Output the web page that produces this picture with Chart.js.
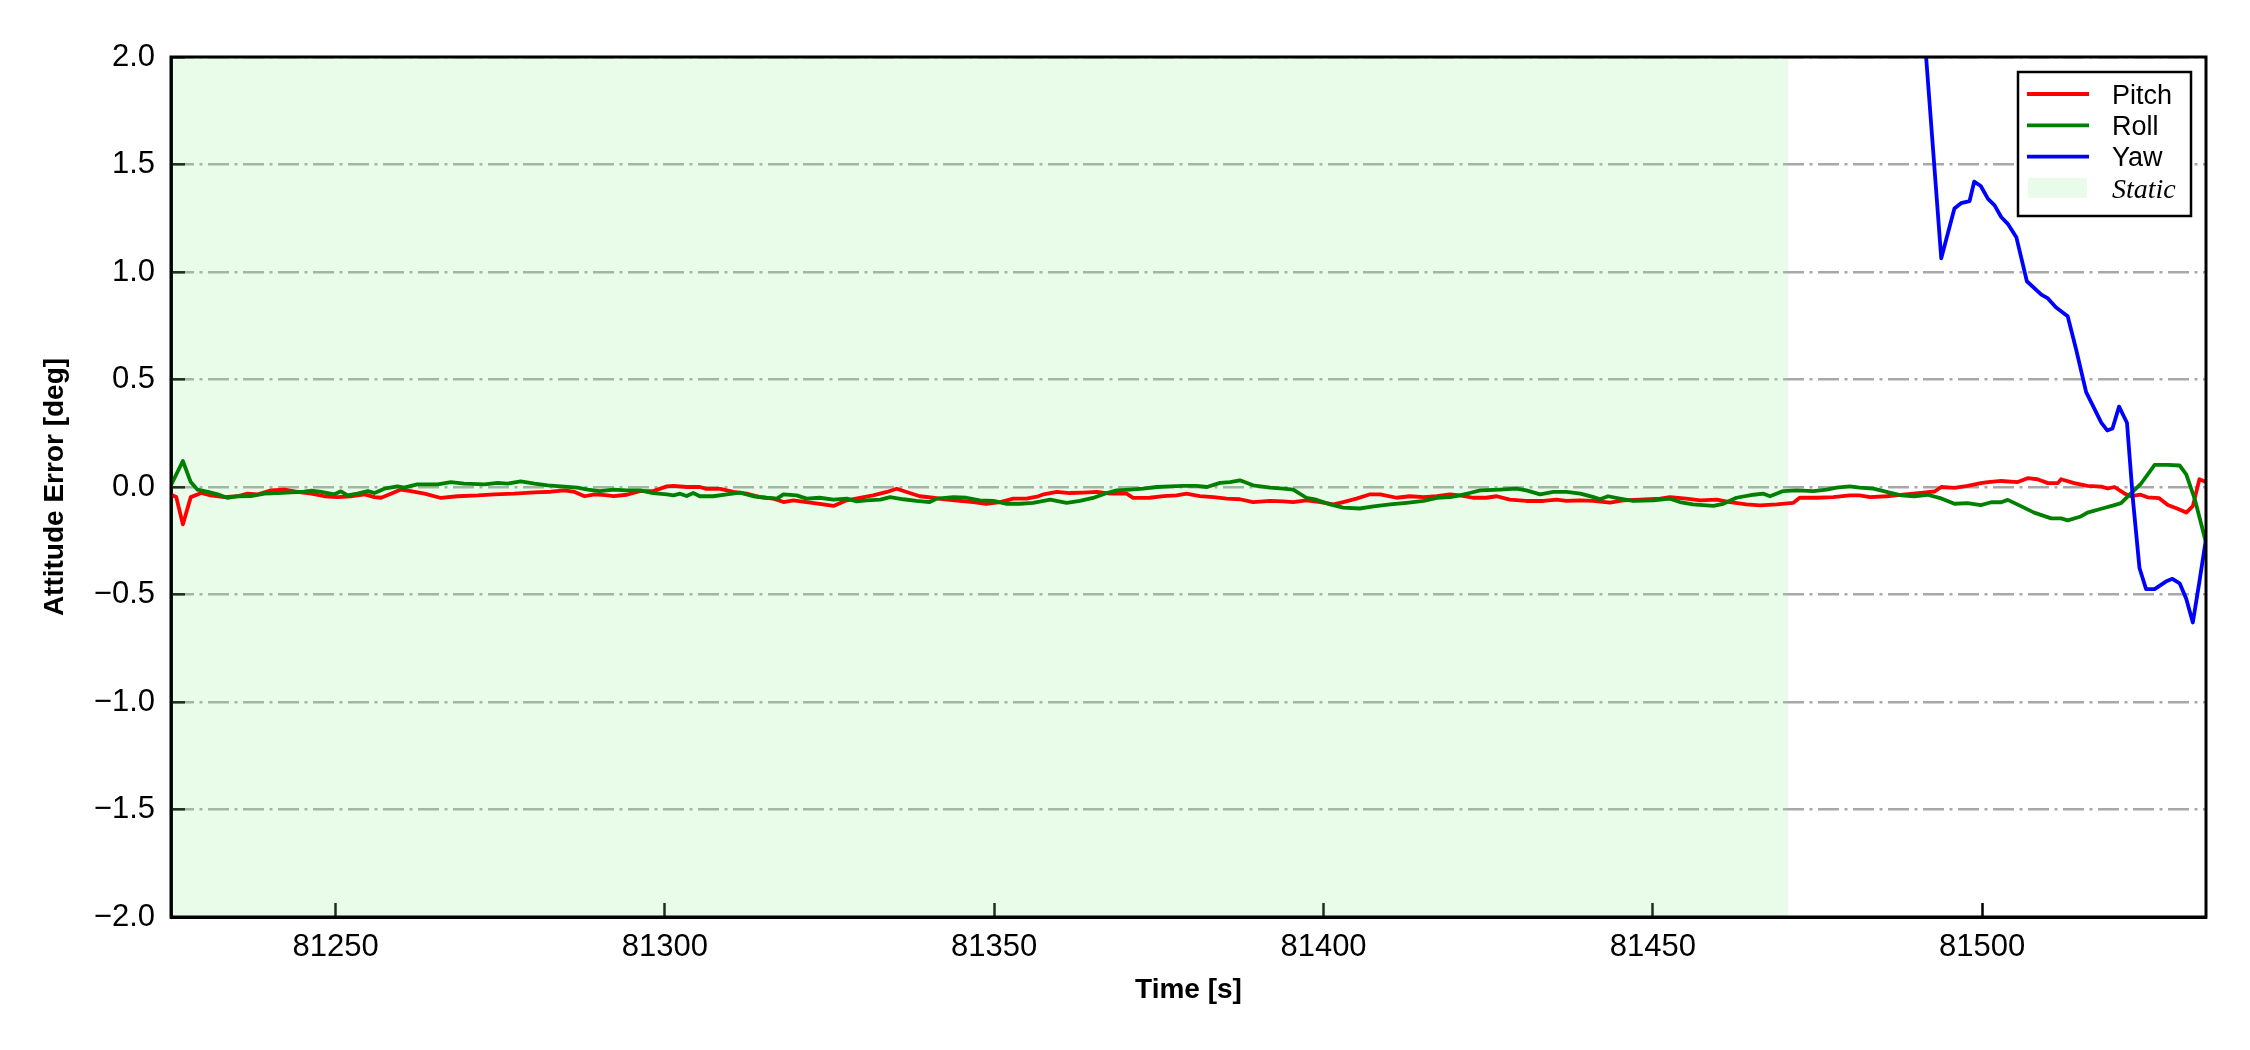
<!DOCTYPE html>
<html>
<head>
<meta charset="utf-8">
<title>Attitude Error</title>
<script src="https://cdn.jsdelivr.net/npm/chart.js@4.4.0/dist/chart.umd.min.js"></script>
<style>
  html, body { margin: 0; padding: 0; background: #fff; }
  canvas { display: block; }
</style>
</head>
<body>
<canvas id="attitude" width="2250" height="1050"></canvas>
<script>
// ---- data ----
var xTicks = [81250, 81300, 81350, 81400, 81450, 81500];
var yTicks = [-2.0, -1.5, -1.0, -0.5, 0.0, 0.5, 1.0, 1.5, 2.0];
var xMin = 81225, xMax = 81534;
var yMin = -2.0, yMax = 2.0;
var staticStart = 81225, staticEnd = 81470.6;

var pitchTime = [81225.0, 81225.8, 81226.8, 81228.0, 81229.6, 81231.0, 81233.1, 81235.1, 81236.6, 81238.2,
	81240.2, 81242.2, 81244.2, 81246.3, 81248.3, 81250.3, 81252.3, 81254.4, 81255.9, 81256.9,
	81258.4, 81259.9, 81261.4, 81263.5, 81266.0, 81268.5, 81271.6, 81274.1, 81277.1, 81280.2,
	81282.7, 81284.7, 81286.3, 81287.8, 81289.3, 81291.0, 81292.2, 81294.2, 81296.2, 81298.2,
	81300.3, 81301.3, 81303.3, 81305.3, 81306.3, 81308.4, 81310.4, 81312.4, 81314.4, 81316.5,
	81318.0, 81319.5, 81321.5, 81323.5, 81325.6, 81327.6, 81329.6, 81331.6, 81333.7, 81335.2,
	81336.7, 81338.7, 81340.7, 81342.8, 81344.8, 81346.8, 81348.8, 81350.9, 81352.9, 81354.9,
	81356.5, 81357.5, 81359.5, 81361.5, 81363.5, 81365.6, 81367.6, 81370.1, 81371.1, 81373.6,
	81375.7, 81377.7, 81379.2, 81381.2, 81383.3, 81385.3, 81387.3, 81389.3, 81391.9, 81393.9,
	81395.4, 81397.4, 81399.5, 81401.5, 81403.0, 81405.0, 81407.1, 81408.6, 81411.1, 81413.1,
	81415.2, 81417.2, 81419.2, 81420.7, 81422.7, 81424.7, 81426.3, 81428.3, 81430.8, 81433.4,
	81435.4, 81436.9, 81438.9, 81441.0, 81443.5, 81445.5, 81448.0, 81451.1, 81452.6, 81455.1,
	81457.2, 81459.7, 81461.7, 81464.2, 81466.3, 81468.8, 81471.3, 81472.3, 81474.9, 81477.4,
	81479.9, 81481.4, 81483.0, 81485.5, 81487.6, 81490.7, 81492.8, 81493.8, 81495.8, 81497.8,
	81499.8, 81500.9, 81502.9, 81505.4, 81506.9, 81508.4, 81510.0, 81511.5, 81512.0, 81514.0,
	81516.0, 81518.1, 81519.1, 81520.1, 81521.6, 81522.6, 81524.1, 81525.1, 81526.9, 81528.2,
	81529.7, 81531.0, 81532.0, 81533.0, 81534.0];
var pitchValue = [-0.036, -0.047, -0.174, -0.047, -0.028, -0.039, -0.047, -0.043, -0.031, -0.034,
	-0.016, -0.012, -0.023, -0.031, -0.043, -0.047, -0.043, -0.034, -0.047, -0.050,
	-0.031, -0.012, -0.019, -0.031, -0.051, -0.043, -0.039, -0.034, -0.031, -0.025,
	-0.022, -0.016, -0.023, -0.043, -0.034, -0.038, -0.042, -0.036, -0.019, -0.019,
	0.003, 0.005, 0.000, 0.000, -0.009, -0.009, -0.023, -0.031, -0.047, -0.054,
	-0.070, -0.062, -0.070, -0.078, -0.088, -0.062, -0.051, -0.039, -0.023, -0.008,
	-0.023, -0.043, -0.050, -0.059, -0.065, -0.070, -0.078, -0.070, -0.054, -0.054,
	-0.045, -0.034, -0.023, -0.028, -0.026, -0.023, -0.031, -0.031, -0.051, -0.050,
	-0.042, -0.039, -0.031, -0.042, -0.047, -0.054, -0.057, -0.070, -0.065, -0.067,
	-0.070, -0.062, -0.070, -0.081, -0.070, -0.054, -0.034, -0.034, -0.050, -0.043,
	-0.047, -0.043, -0.034, -0.039, -0.050, -0.050, -0.043, -0.059, -0.065, -0.065,
	-0.059, -0.065, -0.062, -0.065, -0.073, -0.062, -0.059, -0.054, -0.047, -0.054,
	-0.062, -0.059, -0.070, -0.081, -0.085, -0.081, -0.074, -0.050, -0.050, -0.047,
	-0.039, -0.039, -0.047, -0.043, -0.037, -0.027, -0.021, 0.000, -0.004, 0.005,
	0.018, 0.023, 0.028, 0.023, 0.041, 0.036, 0.018, 0.018, 0.036, 0.018,
	0.005, 0.002, -0.007, 0.000, -0.030, -0.043, -0.036, -0.048, -0.052, -0.084,
	-0.101, -0.119, -0.089, 0.036, 0.023];

var rollTime = [81225.0, 81226.8, 81228.0, 81229.0, 81230.6, 81232.1, 81233.6, 81235.1, 81237.1, 81239.2,
	81241.2, 81243.2, 81245.2, 81246.3, 81247.8, 81249.8, 81250.8, 81251.8, 81253.3, 81254.9,
	81255.9, 81257.4, 81259.4, 81260.4, 81262.4, 81265.5, 81267.5, 81269.5, 81272.6, 81274.6,
	81276.1, 81278.1, 81280.2, 81282.2, 81284.2, 81286.7, 81288.3, 81290.1, 81292.2, 81294.2,
	81296.2, 81298.2, 81300.3, 81301.3, 81302.3, 81303.3, 81304.3, 81305.3, 81307.3, 81309.4,
	81311.4, 81313.4, 81315.4, 81317.0, 81318.0, 81320.0, 81321.5, 81323.5, 81325.6, 81327.6,
	81329.1, 81330.6, 81332.7, 81334.2, 81336.2, 81338.2, 81340.2, 81341.3, 81343.8, 81345.8,
	81347.8, 81349.9, 81351.9, 81353.9, 81355.9, 81358.5, 81361.0, 81363.0, 81365.0, 81367.1,
	81368.6, 81370.6, 81372.6, 81374.7, 81376.7, 81378.7, 81380.7, 81382.3, 81384.3, 81385.8,
	81387.3, 81389.3, 81391.9, 81393.9, 81395.4, 81397.4, 81398.9, 81401.0, 81403.0, 81405.5,
	81407.6, 81410.1, 81412.6, 81415.2, 81417.2, 81419.2, 81420.7, 81422.2, 81423.8, 81426.8,
	81429.3, 81430.8, 81432.9, 81434.9, 81436.9, 81439.0, 81441.0, 81442.0, 81443.2, 81445.0,
	81447.0, 81450.1, 81452.6, 81454.1, 81456.1, 81459.2, 81460.7, 81462.7, 81465.3, 81466.8,
	81467.8, 81469.8, 81471.8, 81474.4, 81476.4, 81477.9, 81479.9, 81481.4, 81483.5, 81485.5,
	81487.7, 81489.7, 81491.7, 81493.8, 81495.8, 81497.8, 81499.8, 81501.4, 81502.9, 81503.9,
	81505.9, 81507.9, 81510.5, 81512.0, 81513.0, 81515.0, 81516.0, 81518.1, 81520.1, 81521.1,
	81522.6, 81524.1, 81526.2, 81528.2, 81530.0, 81531.0, 81532.3, 81533.8, 81534.5];
var rollValue = [0.008, 0.121, 0.023, -0.012, -0.023, -0.034, -0.051, -0.043, -0.042, -0.031,
	-0.028, -0.025, -0.022, -0.017, -0.023, -0.034, -0.020, -0.039, -0.031, -0.019,
	-0.028, -0.008, 0.003, -0.003, 0.012, 0.012, 0.023, 0.016, 0.012, 0.019,
	0.016, 0.026, 0.016, 0.008, 0.003, -0.003, -0.012, -0.019, -0.012, -0.016,
	-0.016, -0.028, -0.034, -0.039, -0.031, -0.042, -0.028, -0.043, -0.043, -0.034,
	-0.026, -0.043, -0.050, -0.054, -0.034, -0.039, -0.054, -0.050, -0.059, -0.054,
	-0.067, -0.062, -0.059, -0.047, -0.057, -0.065, -0.070, -0.054, -0.047, -0.050,
	-0.062, -0.065, -0.078, -0.078, -0.074, -0.059, -0.074, -0.065, -0.051, -0.028,
	-0.016, -0.012, -0.008, 0.000, 0.003, 0.005, 0.005, 0.000, 0.019, 0.023,
	0.031, 0.008, -0.003, -0.008, -0.012, -0.050, -0.059, -0.081, -0.096, -0.100,
	-0.090, -0.081, -0.074, -0.065, -0.051, -0.047, -0.039, -0.028, -0.016, -0.012,
	-0.008, -0.016, -0.034, -0.023, -0.023, -0.031, -0.047, -0.057, -0.043, -0.054,
	-0.065, -0.062, -0.054, -0.070, -0.081, -0.088, -0.078, -0.050, -0.036, -0.031,
	-0.043, -0.019, -0.016, -0.019, -0.012, -0.003, 0.003, -0.003, -0.008, -0.023,
	-0.039, -0.043, -0.036, -0.053, -0.078, -0.075, -0.084, -0.071, -0.071, -0.060,
	-0.089, -0.119, -0.146, -0.146, -0.155, -0.137, -0.119, -0.101, -0.084, -0.075,
	-0.030, 0.014, 0.103, 0.103, 0.100, 0.059, -0.057, -0.235, -0.320];

var yawTime = [81490.0, 81491.5, 81493.8, 81495.8, 81496.8, 81498.1, 81498.8, 81499.8, 81500.9, 81501.9,
	81502.9, 81503.9, 81505.2, 81506.8, 81509.0, 81510.0, 81511.2, 81513.0, 81514.3, 81515.8,
	81518.1, 81519.0, 81519.8, 81520.8, 81522.0, 81522.9, 81523.9, 81524.9, 81526.2, 81527.9,
	81528.9, 81530.0, 81531.0, 81532.0, 81533.0, 81533.8, 81534.5];
var yawValue = [2.70, 2.00, 1.064, 1.295, 1.32, 1.33, 1.42, 1.40, 1.34, 1.31,
	1.256, 1.224, 1.162, 0.957, 0.895, 0.877, 0.836, 0.794, 0.637, 0.441,
	0.299, 0.263, 0.272, 0.374, 0.299, -0.057, -0.377, -0.475, -0.475, -0.44,
	-0.427, -0.448, -0.52, -0.63, -0.44, -0.28, -0.15];

function toPoints(times, values) {
	return times.map(function (t, i) { return {x: t, y: values[i]}; });
}

function minusLabel(v) {
	return v.toFixed(1).replace('-', '\u2212');
}

// frame round the plot and the boxed legend, like the matplotlib figure
var framePlugin = {
	id: 'frame',
	afterDraw: function (chart) {
		var ctx = chart.ctx, a = chart.chartArea;
		ctx.save();
		ctx.strokeStyle = '#000';
		ctx.lineWidth = 3;
		ctx.strokeRect(a.left, a.top, a.right - a.left, a.bottom - a.top);

		// legend
		var boxW = 173, boxH = 144;
		var bx = a.right - 15 - boxW, by = a.top + 15;
		ctx.fillStyle = '#fff';
		ctx.fillRect(bx, by, boxW, boxH);
		ctx.lineWidth = 2.5;
		ctx.strokeRect(bx, by, boxW, boxH);
		chart.data.datasets.forEach(function (ds, i) {
			var rowY = by + 22 + i * 31.3;
			if (ds.fill) {
				ctx.fillStyle = ds.backgroundColor;
				ctx.fillRect(bx + 10, rowY - 10, 59, 20);
			} else {
				ctx.strokeStyle = ds.borderColor;
				ctx.lineWidth = 3.8;
				ctx.beginPath();
				ctx.moveTo(bx + 9, rowY);
				ctx.lineTo(bx + 71, rowY);
				ctx.stroke();
			}
			ctx.fillStyle = '#000';
			ctx.font = ds.legendFont || '27px "Liberation Sans"';
			ctx.textBaseline = 'alphabetic';
			ctx.textAlign = 'left';
			ctx.fillText(ds.label, bx + 94, rowY + 9.7);
		});
		ctx.restore();
	}
};

Chart.defaults.font.family = '"Liberation Sans", Arial, sans-serif';
Chart.defaults.color = '#000';

var ctx = document.getElementById('attitude').getContext('2d');
var attitudeChart = new Chart(ctx, {
	type: 'line',
	data: {
		datasets: [{
			label: 'Pitch',
			data: toPoints(pitchTime, pitchValue),
			borderColor: '#ff0000',
			borderWidth: 3.8,
			order: 3
		}, {
			label: 'Roll',
			data: toPoints(rollTime, rollValue),
			borderColor: '#008000',
			borderWidth: 3.8,
			order: 2
		}, {
			label: 'Yaw',
			data: toPoints(yawTime, yawValue),
			borderColor: '#0000ff',
			borderWidth: 3.8,
			order: 1
		}, {
			label: 'Static',
			data: [{x: staticStart, y: yMax}, {x: staticEnd, y: yMax}],
			borderColor: 'transparent',
			borderWidth: 0,
			backgroundColor: 'rgba(144, 238, 144, 0.2)',
			fill: 'start',
			legendFont: 'italic 28px "Liberation Serif"',
			order: 4
		}]
	},
	options: {
		responsive: false,
		devicePixelRatio: 1,
		animation: false,
		elements: {
			point: {radius: 0, hoverRadius: 0},
			line: {tension: 0, borderJoinStyle: 'round', borderCapStyle: 'round'}
		},
		datasets: {line: {clip: 0}},
		layout: {padding: {left: 0, right: 44, top: 57, bottom: 0}},
		plugins: {
			legend: {display: false},
			tooltip: {enabled: false}
		},
		scales: {
			x: {
				type: 'linear',
				min: xMin,
				max: xMax,
				afterFit: function (s) { s.height = 133; },
				afterBuildTicks: function (s) {
					s.ticks = xTicks.map(function (v) { return {value: v}; });
				},
				ticks: {
					font: {size: 31},
					padding: 26,
					maxRotation: 0,
					callback: function (v) { return String(v); }
				},
				grid: {
					drawOnChartArea: false,
					tickLength: -14,
					tickColor: '#000',
					tickWidth: 2.5
				},
				border: {color: '#000', width: 3},
				title: {
					display: true,
					text: 'Time [s]',
					font: {size: 28, weight: 'bold'},
					padding: {top: 0, bottom: 43}
				}
			},
			y: {
				type: 'linear',
				min: yMin,
				max: yMax,
				afterFit: function (s) { s.width = 171; },
				afterBuildTicks: function (s) {
					s.ticks = yTicks.map(function (v) { return {value: v}; });
				},
				ticks: {
					font: {size: 31},
					padding: 30,
					callback: function (v) { return minusLabel(v); }
				},
				grid: {
					color: '#a8a8a8',
					lineWidth: 2.6,
					tickLength: -14,
					tickColor: '#000',
					tickWidth: 2.5,
					tickBorderDash: []
				},
				border: {color: '#000', width: 3, dash: [21, 5.5, 3, 5.5]},
				title: {
					display: true,
					text: 'Attitude Error [deg]',
					font: {size: 28, weight: 'bold'},
					padding: {top: 38, bottom: 0}
				}
			}
		}
	},
	plugins: [framePlugin]
});
</script>
</body>
</html>
